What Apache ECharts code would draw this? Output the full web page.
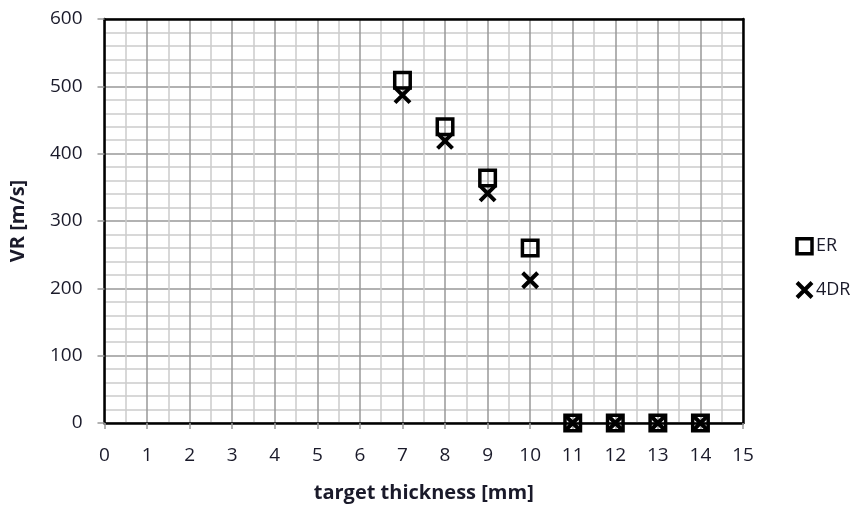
<!DOCTYPE html>
<html>
<head>
<meta charset="utf-8">
<script src="https://cdn.jsdelivr.net/npm/echarts@6/dist/echarts.min.js"></script>
<style>
  html, body { margin: 0; padding: 0; background: #fff; }
  #chart { width: 859px; height: 508px; }
</style>
</head>
<body>
<div id="chart"></div>
<script>
// Residual velocity versus target thickness
const thickness = [7, 8, 9, 10, 11, 12, 13, 14];
const erValues  = [509, 440, 364, 260, 0, 0, 0, 0];
const dr4Values = [487, 419, 341, 212, 0, 0, 0, 0];
const seriesNames = ['ER', '4DR'];

const FONT = '"Open Sans", "Liberation Sans", sans-serif';
const TEXT = '#1a1a2a';
const crossPath = 'path://M0,0L10,10M10,0L0,10';

const squareStyle = { color: 'rgba(255,255,255,0)', borderColor: '#000', borderWidth: 3.5, opacity: 1 };
const crossStyle = { color: '#000', borderColor: '#000', borderWidth: 4, opacity: 1 };

const chart = echarts.init(document.getElementById('chart'));

const hidden = { show: false };

chart.setOption({
  animation: false,
  backgroundColor: '#fff',
  grid: {
    left: 104.5, right: 116, top: 19, bottom: 85,
    containLabel: false, outerBoundsMode: 'none'
  },
  legend: {
    orient: 'vertical',
    left: 795,
    top: 237,
    padding: 0,
    itemGap: 25,
    itemWidth: 15,
    itemHeight: 15,
    textStyle: { fontFamily: FONT, fontSize: 18, color: TEXT, padding: [0, 0, 0, -1] },
    data: [
      { name: seriesNames[0], icon: 'rect', itemStyle: squareStyle },
      { name: seriesNames[1], icon: crossPath, itemStyle: crossStyle }
    ]
  },
  xAxis: [
    {
      type: 'value', min: 0, max: 15, interval: 1,
      name: 'target thickness [mm]', nameLocation: 'middle', nameGap: 60,
      nameTextStyle: { fontFamily: FONT, fontSize: 20, fontWeight: 'bold', color: TEXT },
      axisLine: { lineStyle: { color: '#000', width: 2.5 } },
      axisTick: { show: true, length: 6, lineStyle: { color: '#999', width: 1.5 } },
      axisLabel: { fontFamily: FONT, fontSize: 19, color: TEXT, margin: 23 },
      splitLine: { show: true, lineStyle: { color: '#999', width: 1.5 } },
      minorTick: { show: false, splitNumber: 2 },
      minorSplitLine: { show: true, lineStyle: { color: '#ccc', width: 1.5 } }
    },
    {
      type: 'value', min: 0, max: 15, position: 'top',
      axisLine: { show: true, onZero: false, lineStyle: { color: '#000', width: 2.5 } },
      axisTick: hidden, axisLabel: hidden, splitLine: hidden
    }
  ],
  yAxis: [
    {
      type: 'value', min: 0, max: 600, interval: 100,
      name: 'VR [m/s]', nameLocation: 'middle', nameGap: 76, nameRotate: 90,
      nameTextStyle: { fontFamily: FONT, fontSize: 20, fontWeight: 'bold', color: TEXT },
      axisLine: { show: true, lineStyle: { color: '#000', width: 2.5 } },
      axisTick: { show: true, length: 7, lineStyle: { color: '#999', width: 1.5 } },
      axisLabel: { fontFamily: FONT, fontSize: 19, color: TEXT, margin: 22 },
      splitLine: { show: true, lineStyle: { color: '#999', width: 1.5 } },
      minorTick: { show: false, splitNumber: 5 },
      minorSplitLine: { show: true, lineStyle: { color: '#ccc', width: 1.5 } }
    },
    {
      type: 'value', min: 0, max: 600, position: 'right',
      axisLine: { show: true, onZero: false, lineStyle: { color: '#000', width: 2.5 } },
      axisTick: hidden, axisLabel: hidden, splitLine: hidden
    }
  ],
  series: [
    {
      name: seriesNames[0],
      type: 'scatter',
      clip: false,
      symbol: 'rect',
      symbolSize: 15.5,
      z: 5,
      itemStyle: squareStyle,
      data: thickness.map((t, i) => [t, erValues[i]])
    },
    {
      name: seriesNames[1],
      type: 'scatter',
      clip: false,
      symbol: crossPath,
      symbolSize: 15,
      z: 6,
      itemStyle: crossStyle,
      data: thickness.map((t, i) => [t, dr4Values[i]])
    }
  ]
});
</script>
</body>
</html>
